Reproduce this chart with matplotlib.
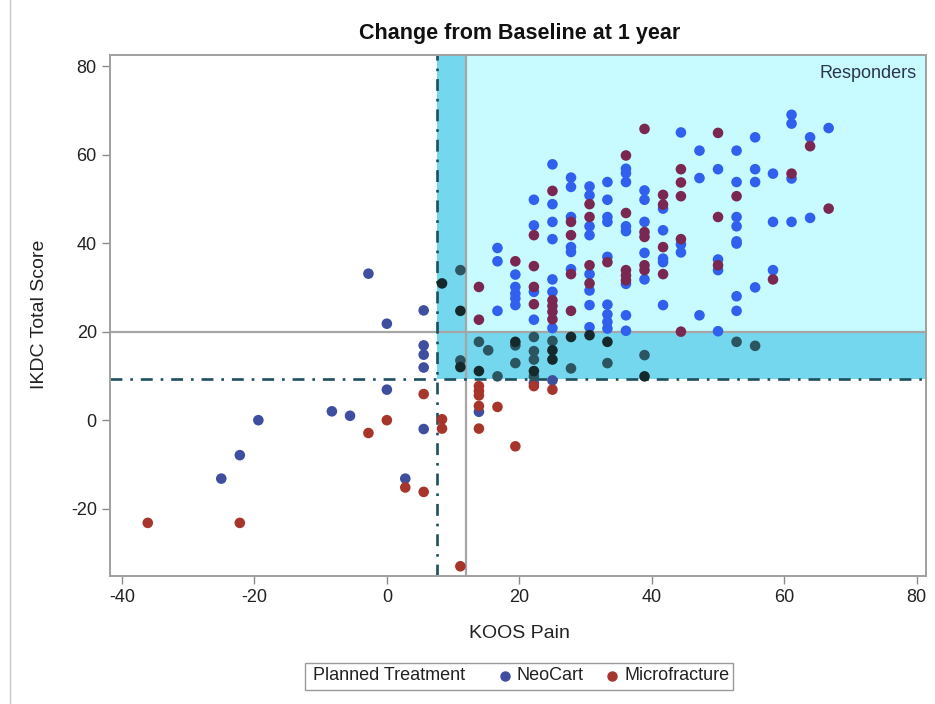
import numpy as np
import matplotlib.pyplot as plt
from matplotlib.lines import Line2D
from matplotlib.patches import Rectangle

plt.rcParams['font.family'] = ['Liberation Sans', 'DejaVu Sans']
plt.rcParams['axes.unicode_minus'] = False

# change from baseline at 1 year
neo_x = [-25, -22.2, -19.4, -8.3, -5.56, -2.78, 0, 0, 5.56, 5.56, 5.56, 5.56, 5.56, 2.78, 13.9, 22.2, 25,
         16.7, 16.7, 16.7,
         19.4, 19.4, 19.4, 19.4, 19.4,
         22.2, 22.2, 22.2, 22.2,
         25, 25, 25, 25, 25, 25, 25,
         27.8, 27.8, 27.8, 27.8, 27.8, 27.8,
         30.6, 30.6, 30.6, 30.6, 30.6, 30.6, 30.6, 30.6,
         33.3, 33.3, 33.3, 33.3, 33.3, 33.3, 33.3, 33.3, 33.3,
         36.1, 36.1, 36.1, 36.1, 36.1, 36.1, 36.1, 36.1,
         38.9, 38.9, 38.9, 38.9, 38.9,
         41.7, 41.7, 41.7, 41.7, 41.7,
         44.4, 44.4, 44.4,
         47.2, 47.2, 47.2,
         50, 50, 50, 50,
         52.8, 52.8, 52.8, 52.8, 52.8, 52.8, 52.8, 52.8,
         55.6, 55.6, 55.6, 55.6,
         58.3, 58.3, 58.3,
         61.1, 61.1, 61.1, 61.1,
         63.9, 63.9, 66.7,
         11.1, 11.1, 13.9, 15.3, 16.7, 19.4, 19.4, 22.2, 22.2, 22.2, 22.2, 25, 27.8, 33.3, 38.9, 52.8, 55.6]
neo_y = [-13.2, -7.9, 0, 2.0, 1.0, 33.1, 21.8, 6.9, 24.8, 16.9, 14.8, 11.9, -2.0, -13.2, 1.9, 8.4, 9.0,
         38.9, 35.9, 24.7,
         32.9, 30.1, 28.6, 27.5, 26.0,
         49.8, 44.0, 29.0, 22.7,
         57.8, 48.8, 44.8, 40.9, 31.8, 29.0, 20.8,
         54.8, 52.7, 45.9, 39.1, 38.0, 34.1,
         52.8, 50.8, 43.8, 41.8, 33.0, 29.3, 26.0, 21.0,
         53.8, 49.8, 45.9, 44.8, 36.9, 26.1, 23.9, 22.2, 20.7,
         56.8, 55.8, 53.8, 43.8, 42.7, 30.8, 23.7, 20.2,
         51.9, 49.8, 44.8, 37.8, 31.8,
         47.8, 42.9, 36.5, 35.7, 26.0,
         65.0, 39.7, 37.9,
         60.9, 54.7, 23.7,
         56.7, 36.3, 33.9, 20.1,
         60.9, 53.8, 45.9, 43.8, 39.9, 40.4, 28.0, 24.7,
         63.9, 56.7, 53.8, 30.0,
         55.7, 44.8, 33.9,
         69.0, 67.0, 54.6, 44.8,
         63.9, 45.7, 66.0,
         33.9, 13.5, 17.7, 15.8, 9.9, 16.9, 12.9, 18.8, 15.6, 13.7, 9.9, 17.9, 11.7, 12.9, 14.7, 17.7, 16.8]

micro_x = [-36.1, -22.2, -2.78, 0, 5.56, 8.33, 8.33, 2.78, 5.56, 11.1,
           13.9, 13.9, 13.9, 13.9, 16.7, 13.9, 19.4, 22.2, 25,
           13.9, 13.9, 19.4,
           22.2, 22.2, 22.2, 22.2,
           25, 25, 25, 25, 25,
           27.8, 27.8, 27.8, 27.8,
           30.6, 30.6, 30.6, 30.6,
           33.3,
           36.1, 36.1, 36.1, 36.1, 36.1,
           38.9, 38.9, 38.9, 38.9, 38.9,
           41.7, 41.7, 41.7, 41.7,
           44.4, 44.4, 44.4, 44.4, 44.4,
           50, 50, 50, 52.8, 58.3, 61.1, 63.9, 66.7,
           8.33, 11.1, 11.1, 13.9, 19.4, 22.2, 25, 25, 27.8, 30.6, 33.3, 38.9]
micro_y = [-23.2, -23.2, -2.9, 0, 5.9, 0.2, -1.9, -15.2, -16.2, -33.0,
           7.7, 6.6, 5.6, 3.2, 3.0, -1.9, -5.9, 7.7, 6.9,
           30.1, 22.7, 35.9,
           41.8, 34.8, 30.1, 26.2,
           51.8, 27.1, 25.8, 24.5, 22.8,
           44.8, 41.8, 33.0, 24.7,
           48.8, 45.9, 35.0, 30.9,
           35.7,
           59.8, 46.8, 33.9, 32.7, 31.6,
           65.8, 42.5, 41.4, 35.0, 33.9,
           50.9, 48.7, 39.1, 33.0,
           56.7, 53.7, 50.6, 40.9, 20.0,
           64.9, 45.9, 35.0, 50.6, 31.8, 55.7, 61.9, 47.8,
           30.9, 24.7, 12.0, 11.1, 17.7, 11.1, 15.8, 13.7, 18.8, 19.2, 17.7, 9.9]

# thresholds
x_min_resp, y_min_resp = 7.6, 9.3
x_resp, y_resp = 12, 20


def region_colors(x, y, c_white, c_light, c_band):
    x = np.asarray(x)
    y = np.asarray(y)
    in_band = (x >= x_min_resp) & (y >= y_min_resp)
    in_light = (x >= x_resp) & (y >= y_resp)
    cols = np.where(in_light, c_light, np.where(in_band, c_band, c_white))
    return list(cols)


fig = plt.figure(figsize=(9.35, 7.04), dpi=100)
ax = fig.add_axes([110/935, 1-576/704, 816/935, 521/704])
ax.set_xlim(-41.8, 81.4)
ax.set_ylim(-35.2, 82.5)

# shaded areas
ax.add_patch(Rectangle((x_min_resp, y_min_resp), 200, 200, color='#74d7ee', lw=0, zorder=0))
ax.add_patch(Rectangle((x_resp, y_resp), 200, 200, color='#c8fbff', lw=0, zorder=0.5))

ax.axvline(x_resp, color='#a6a6a6', lw=1.6, zorder=1)
ax.axhline(y_resp, color='#a6a6a6', lw=1.6, zorder=1)
ax.axvline(x_min_resp, color='#1d4f5e', lw=1.9, ls=(0, (4.5, 3, 1, 3)), zorder=1)
ax.axhline(y_min_resp, color='#1d4f5e', lw=1.9, ls=(0, (4.5, 3, 1, 3)), zorder=1)

ax.scatter(neo_x, neo_y, s=58, lw=0, zorder=3,
           c=region_colors(neo_x, neo_y, '#3f4e9e', '#2f60ee', '#2a5561'))
ax.scatter(micro_x, micro_y, s=58, lw=0, zorder=3,
           c=region_colors(micro_x, micro_y, '#a8352b', '#7a2752', '#15292d'))

ax.text(72.7, 78.3, 'Responders', ha='center', va='center', fontsize=13, color='#2b3550')

ax.set_xticks([-40, -20, 0, 20, 40, 60, 80])
ax.set_yticks([-20, 0, 20, 40, 60, 80])
ax.tick_params(direction='out', length=6, width=1, color='#8a8a8a', labelsize=13, labelcolor='#222222')
for sp in ax.spines.values():
    sp.set_color('#a0a0a0')
    sp.set_linewidth(1.4)

fig.text(520/935, 1-33/704, 'Change from Baseline at 1 year', ha='center', va='center',
         fontsize=15.5, fontweight='bold', color='#111111')
fig.text(519/935, 1-634/704, 'KOOS Pain', ha='center', va='center', fontsize=14, color='#222222')
fig.text(40/935, 1-314/704, 'IKDC Total Score', ha='center', va='center', rotation=90,
         fontsize=14, color='#222222')

# legend box drawn by hand
fig.add_artist(Rectangle((305/935, 1-690/704), 428/935, 27/704, transform=fig.transFigure,
                         facecolor='white', edgecolor='#9a9a9a', lw=1))
ly = 1 - 676/704
fig.text(313/935, ly, 'Planned Treatment', ha='left', va='center', fontsize=13, color='#222222')
fig.add_artist(Line2D([505/935], [ly], marker='o', ms=6.5, color='#3f4e9e', lw=0))
fig.text(517/935, ly, 'NeoCart', ha='left', va='center', fontsize=13, color='#222222')
fig.add_artist(Line2D([612/935], [ly], marker='o', ms=6.5, color='#a8352b', lw=0))
fig.text(624/935, ly, 'Microfracture', ha='left', va='center', fontsize=13, color='#222222')

fig.add_artist(Line2D([10/935, 10/935], [0, 1], color='#c8c8c8', lw=1))

fig.savefig('out.png', dpi=100)
